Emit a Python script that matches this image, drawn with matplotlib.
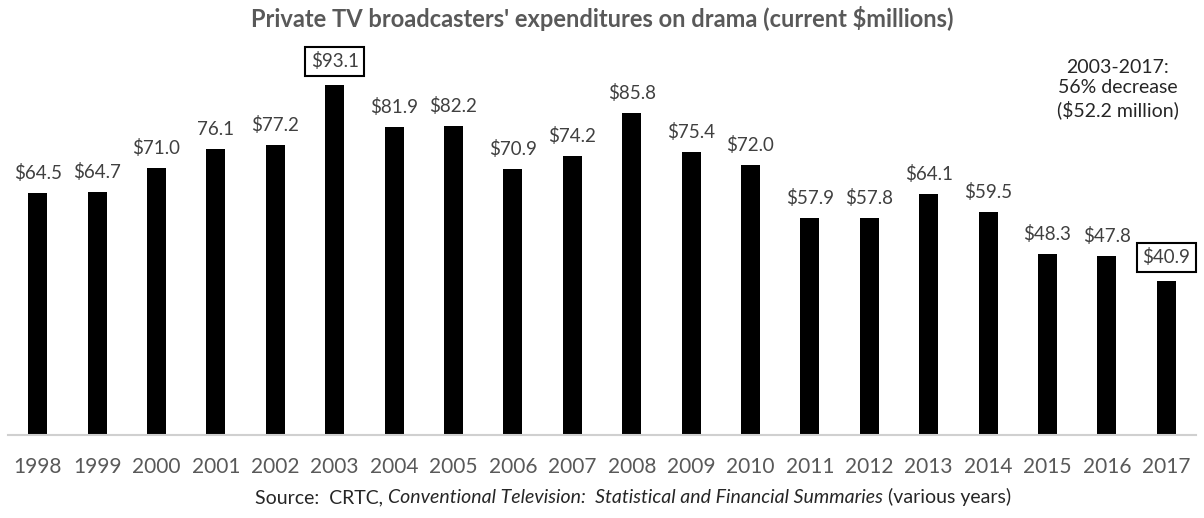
import matplotlib
matplotlib.use("Agg")
import matplotlib.pyplot as plt
import numpy as np

years = [str(y) for y in range(1998, 2018)]
spend = [64.5, 64.7, 71.0, 76.1, 77.2, 93.1, 81.9, 82.2, 70.9, 74.2,
         85.8, 75.4, 72.0, 57.9, 57.8, 64.1, 59.5, 48.3, 47.8, 40.9]
labels = ["$64.5", "$64.7", "$71.0", "76.1", "$77.2", "$93.1", "$81.9", "$82.2",
          "$70.9", "$74.2", "$85.8", "$75.4", "$72.0", "$57.9", "$57.8", "$64.1",
          "$59.5", "$48.3", "$47.8", "$40.9"]
boxed = ["2003", "2017"]

plt.rcParams['font.family'] = ['Lato', 'DejaVu Sans']

fig = plt.figure(figsize=(12.04, 5.18), dpi=100)
ax = fig.add_axes([8/1204, 83/518, 1188/1204, 380/518])

x = np.arange(len(years))
ax.bar(x, spend, width=0.32, color='black')
ax.set_xlim(-0.5, len(years) - 0.5)
ax.set_ylim(0, 380 / 3.755)

for i, (v, lab) in enumerate(zip(spend, labels)):
    if years[i] in boxed:
        ax.annotate(lab, (i, v), xytext=(0, 15), textcoords='offset pixels',
                    ha='center', va='bottom', fontsize=13.5, color='#404040',
                    bbox=dict(boxstyle='square,pad=0.3', fc='white', ec='black', lw=1.5))
    else:
        ax.annotate(lab, (i, v), xytext=(0, 11), textcoords='offset pixels',
                    ha='center', va='bottom', fontsize=13.5, color='#404040')

ax.set_xticks(x)
ax.set_xticklabels(years, fontsize=15, color='#595959')
ax.tick_params(axis='x', length=0, pad=16)
ax.set_yticks([])
for s in ['top', 'right', 'left']:
    ax.spines[s].set_visible(False)
ax.spines['bottom'].set_color('#d0d0d0')
ax.spines['bottom'].set_linewidth(1.5)

ax.text(0.934, 0.99, "2003-2017:\n56% decrease\n($52.2 million)", transform=ax.transAxes,
        ha='center', va='top', fontsize=14, color='#262626', linespacing=1.25)

fig.text(0.5, 0.965, "Private TV broadcasters' expenditures on drama (current $millions)",
         ha='center', va='center', fontsize=17, fontweight='bold', color='#595959')

# source line with an italic part
t1 = fig.text(0.212, 0.028, "Source:  CRTC, ", ha='left', va='baseline', fontsize=14, color='#262626')
t2 = ax.annotate("Conventional Television:  Statistical and Financial Summaries", xy=(1, 0),
                 xycoords=t1, va='bottom', ha='left', fontsize=14, style='italic', color='#262626',
                 annotation_clip=False)
t3 = ax.annotate(" (various years)", xy=(1, 0), xycoords=t2, va='bottom', ha='left',
                 fontsize=14, color='#262626', annotation_clip=False)

fig.savefig("out.png", dpi=100)
